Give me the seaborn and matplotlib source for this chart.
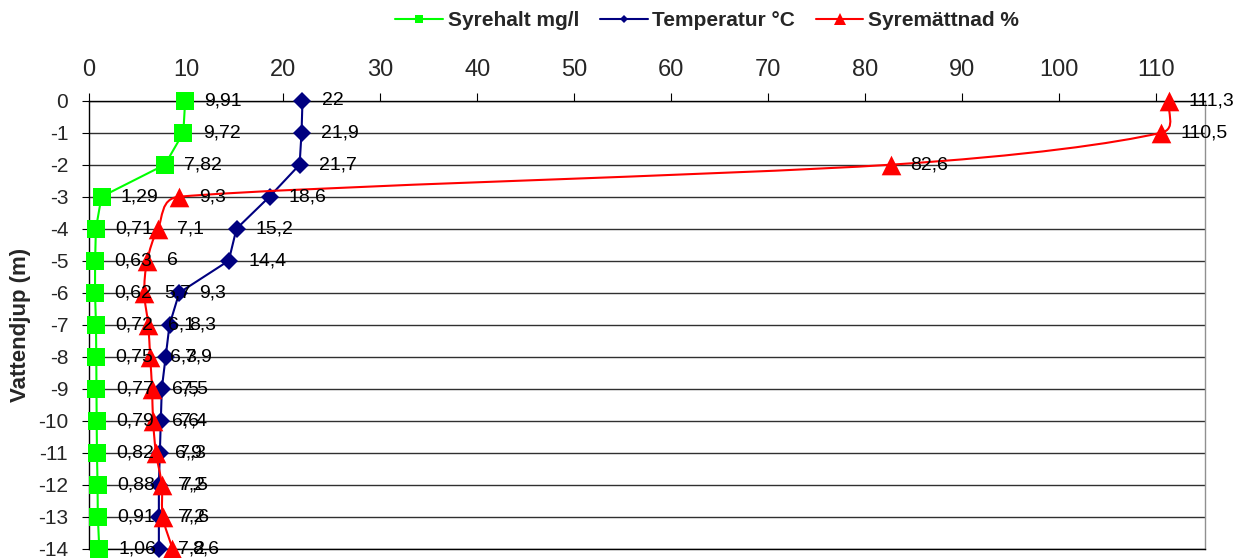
import numpy as np
import pandas as pd
import matplotlib
matplotlib.use("Agg")
import matplotlib.pyplot as plt
from matplotlib.path import Path
from matplotlib.patches import PathPatch
from matplotlib.lines import Line2D
import seaborn as sns

depth = [0, -1, -2, -3, -4, -5, -6, -7, -8, -9, -10, -11, -12, -13, -14]
syrehalt = [9.91, 9.72, 7.82, 1.29, 0.71, 0.63, 0.62, 0.72, 0.75, 0.77, 0.79, 0.82, 0.88, 0.91, 1.06]
temperatur = [22, 21.9, 21.7, 18.6, 15.2, 14.4, 9.3, 8.3, 7.9, 7.5, 7.4, 7.3, 7.2, 7.2, 7.2]
syremattnad = [111.3, 110.5, 82.6, 9.3, 7.1, 6.0, 5.7, 6.1, 6.3, 6.5, 6.6, 6.9, 7.5, 7.6, 8.6]
x_ticks = list(range(0, 111, 10))
series_names = ["Syrehalt mg/l", "Temperatur °C", "Syremättnad %"]

sns.set_theme(style="white")
plt.rcParams["font.family"] = ["Liberation Sans", "DejaVu Sans"]
plt.rcParams["axes.unicode_minus"] = False

W, H = 1250, 558
fig = plt.figure(figsize=(W / 100, H / 100), dpi=100)
left_px, right_px, top_px, bot_px = 89, 1205, 100.7, 548.7
ax = fig.add_axes([left_px / W, 1 - bot_px / H, (right_px - left_px) / W, (bot_px - top_px) / H])

df = pd.DataFrame({"depth": depth, "syrehalt": syrehalt,
                   "temperatur": temperatur, "syremattnad": syremattnad})

green = "#00FF00"
navy = "#000080"
red = "#FF0000"

sns.lineplot(data=df, x="syrehalt", y="depth", ax=ax, estimator=None, sort=False,
             orient="y", color=green, lw=1.5, marker="s", markersize=13,
             markeredgewidth=0, clip_on=False, zorder=3)
sns.lineplot(data=df, x="temperatur", y="depth", ax=ax, estimator=None, sort=False,
             orient="y", color=navy, lw=1.5, marker="D", markersize=9.5,
             markeredgewidth=0, clip_on=False, zorder=4)
sns.scatterplot(data=df, x="syremattnad", y="depth", ax=ax, color=red, marker="^",
                s=200, edgecolor=red, linewidth=0, clip_on=False, zorder=6)

ax.set_xlim(0, 115)
ax.set_ylim(-14, 0)

# smoothed line (Excel style): Catmull-Rom -> cubic Bezier in display-like space,
# with control arms limited to half of the adjacent segment length
pts_data = np.column_stack([syremattnad, depth]).astype(float)
sx = (right_px - left_px) / 115.0
sy = (bot_px - top_px) / 14.0
P = pts_data * np.array([sx, sy])
n = len(P)
ext = np.vstack([2 * P[0] - P[1], P, 2 * P[-1] - P[-2]])


def clamp(v, limit):
    L = np.linalg.norm(v)
    return v if L <= limit or L == 0 else v * (limit / L)


verts = [tuple(pts_data[0])]
codes = [Path.MOVETO]
for i in range(n - 1):
    p0, p1, p2, p3 = ext[i], ext[i + 1], ext[i + 2], ext[i + 3]
    seg = np.linalg.norm(p2 - p1)
    arm1 = clamp((p2 - p0) / 6.0, 0.5 * seg)
    arm2 = clamp((p3 - p1) / 6.0, 0.5 * seg)
    b1 = p1 + arm1
    b2 = p2 - arm2
    for q in (b1, b2, p2):
        verts.append((q[0] / sx, q[1] / sy))
    codes += [Path.CURVE4] * 3
patch = PathPatch(Path(verts, codes), facecolor="none", edgecolor=red, lw=1.5,
                  zorder=5, clip_on=False)
ax.add_patch(patch)

# data labels
def fmt(v):
    s = f"{v:.2f}".rstrip("0").rstrip(".")
    return s.replace(".", ",")

for vals in (syrehalt, temperatur, syremattnad):
    for v, d in zip(vals, depth):
        ax.annotate(fmt(v), xy=(v, d), xytext=(14, 0), textcoords="offset points",
                    ha="left", va="center", fontsize=14, color="black", zorder=7,
                    annotation_clip=False)

ax.xaxis.tick_top()
ax.set_xticks(x_ticks)
ax.set_xticklabels([str(t) for t in x_ticks], fontsize=17)
ax.set_yticks(depth)
ax.set_yticklabels([str(d) for d in depth], fontsize=15)
ax.tick_params(axis="x", which="both", top=True, bottom=False, direction="out",
               length=6, width=0.8, color="black", pad=8)
ax.tick_params(axis="y", which="both", left=True, direction="out", length=5,
               width=0.8, color="black", pad=10)
ax.set_xlabel("")
ax.set_ylabel("Vattendjup (m)", fontsize=16, fontweight="bold")
ax.yaxis.set_label_coords((31 - left_px) / (right_px - left_px), 0.5)

ax.yaxis.grid(True, color="#303030", lw=1.0)
ax.xaxis.grid(False)
for side in ("left", "top", "bottom"):
    ax.spines[side].set_visible(True)
    ax.spines[side].set_color("black")
    ax.spines[side].set_linewidth(1.0)
ax.spines["right"].set_visible(True)
ax.spines["right"].set_color("#909090")
ax.spines["right"].set_linewidth(1.0)

handles = [
    Line2D([], [], color=green, lw=1.5, marker="s", markersize=6, markeredgewidth=0),
    Line2D([], [], color=navy, lw=1.5, marker="D", markersize=4.5, markeredgewidth=0),
    Line2D([], [], color=red, lw=1.5, marker="^", markersize=8, markeredgewidth=0),
]
fig.legend(handles, series_names, loc="center", bbox_to_anchor=(707 / W, 1 - 21 / H),
           ncol=3, frameon=False, prop={"weight": "bold", "size": 15},
           handlelength=2.3, columnspacing=1.0, handletextpad=0.2,
           borderpad=0, borderaxespad=0)

fig.savefig("out.png", dpi=100)
